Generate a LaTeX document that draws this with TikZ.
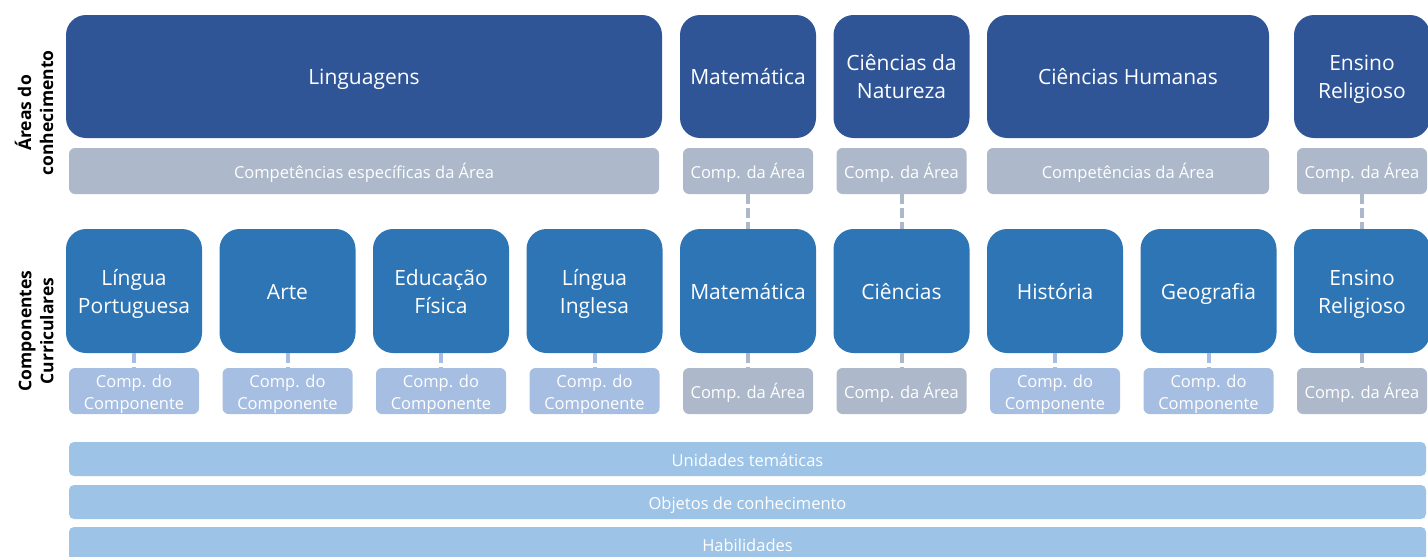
\documentclass[tikz,border=0pt]{standalone}
\usepackage{fontspec}
\setmainfont{Open Sans}
\usetikzlibrary{positioning}

\definecolor{areablue}{HTML}{2F5597}
\definecolor{compblue}{HTML}{2E75B6}
\definecolor{areagray}{HTML}{ADB9CA}
\definecolor{complight}{HTML}{A6BEE2}
\definecolor{bandblue}{HTML}{9DC3E6}

\begin{document}
\begin{tikzpicture}[x=1pt,y=-1pt,node distance=17.5pt]
        \tikzset{big/.style={font=\fontsize{21}{28}\selectfont, text height=22pt, text depth=6pt},
        small/.style={font=\fontsize{16.5}{22}\selectfont, text height=19pt, text depth=4pt},
        bigtwo/.style={text height=50pt},
        smalltwo/.style={text height=41pt},
        area/.style={big, fill=areablue, text=white, rounded corners=20pt, align=center, inner sep=0pt, outer sep=0pt,
            minimum height=123pt},
        comp/.style={big, fill=compblue, text=white, rounded corners=20pt, align=center, inner sep=0pt, outer sep=0pt,
            minimum width=136pt, minimum height=124pt},
        acomp/.style={small, fill=areagray, text=white, rounded corners=6pt, align=center, inner sep=0pt, outer sep=0pt,
            minimum height=46pt},
        ccomp/.style={acomp, smalltwo, fill=complight, minimum width=130pt},
        band/.style={small, fill=bandblue, text=white, rounded corners=5pt, inner sep=0pt, outer sep=0pt,
            minimum width=1357pt, minimum height=34pt},
        side/.style={rotate=90, align=center, font=\fontsize{17.5}{22}\selectfont\bfseries},
        link/.style={draw=areagray, line width=4pt, dash pattern=on 10pt off 4pt},
        llink/.style={link, draw=complight},
        }
        \useasboundingbox (0,0) rectangle (1428,557);

%%% componentes curriculares
        \node [comp, bigtwo, anchor=north west] (lp) at (66,229) {Língua\\Portuguesa};
        \node [comp, right=of lp] (arte) {Arte};
        \node [comp, bigtwo, right=of arte] (edf) {Educação\\Física};
        \node [comp, bigtwo, right=of edf] (li) {Língua\\Inglesa};
        \node [comp, right=of li] (mat) {Matemática};
        \node [comp, right=of mat] (cie) {Ciências};
        \node [comp, right=of cie] (hist) {História};
        \node [comp, right=of hist] (geo) {Geografia};
        \node [comp, bigtwo, right=of geo] (er) {Ensino\\Religioso};

%%% areas do conhecimento
        \node [area, minimum width=596pt, above=91pt of lp.north west, anchor=south west] (ling) {Linguagens};
        \node [area, minimum width=136pt, above=91pt of mat] (amat) {Matemática};
        \node [area, bigtwo, minimum width=136pt, above=91pt of cie] (anat) {Ciências da\\Natureza};
        \node [area, minimum width=282pt, above=91pt of hist.north west, anchor=south west] (ahum) {Ciências Humanas};
        \node [area, bigtwo, minimum width=136pt, above=91pt of er] (aer) {Ensino\\Religioso};

        \node [acomp, minimum width=590pt, below=10pt of ling] (ling_c) {Competências específicas da Área};
        \node [acomp, minimum width=130pt, below=10pt of amat] (amat_c) {Comp. da Área};
        \node [acomp, minimum width=130pt, below=10pt of anat] (anat_c) {Comp. da Área};
        \node [acomp, minimum width=282pt, below=10pt of ahum] (ahum_c) {Competências da Área};
        \node [acomp, minimum width=130pt, below=10pt of aer] (aer_c) {Comp. da Área};

%%% competencias dos componentes
        \node [ccomp, below=15pt of lp] (lp_c) {Comp. do\\Componente};
        \node [ccomp, below=15pt of arte] (arte_c) {Comp. do\\Componente};
        \node [ccomp, below=15pt of edf] (edf_c) {Comp. do\\Componente};
        \node [ccomp, below=15pt of li] (li_c) {Comp. do\\Componente};
        \node [acomp, minimum width=130pt, below=15pt of mat] (mat_c) {Comp. da Área};
        \node [acomp, minimum width=130pt, below=15pt of cie] (cie_c) {Comp. da Área};
        \node [ccomp, below=15pt of hist] (hist_c) {Comp. do\\Componente};
        \node [ccomp, below=15pt of geo] (geo_c) {Comp. do\\Componente};
        \node [acomp, minimum width=130pt, below=15pt of er] (er_c) {Comp. da Área};

%%% faixas
        \node [band, anchor=north west] (unid) at (69,442) {Unidades temáticas};
        \node [band, below=9pt of unid] (obj) {Objetos de conhecimento};
        \node [band, below=8pt of obj] (hab) {Habilidades};

        \node [side] (areas_lbl) at (34,113) {Áreas do\\conhecimento};
        \node [side] (comp_lbl) at (36,331) {Componentes\\Curriculares};

%%% paths
        \path[link] (amat_c) edge (mat)
                    (anat_c) edge (cie)
                    (aer_c) edge (er)
                    (mat) edge (mat_c)
                    (cie) edge (cie_c)
                    (er) edge (er_c)
                    ;
        \path[llink] (lp) edge (lp_c)
                    (arte) edge (arte_c)
                    (edf) edge (edf_c)
                    (li) edge (li_c)
                    (hist) edge (hist_c)
                    (geo) edge (geo_c)
                    ;
    \end{tikzpicture}
\end{document}
